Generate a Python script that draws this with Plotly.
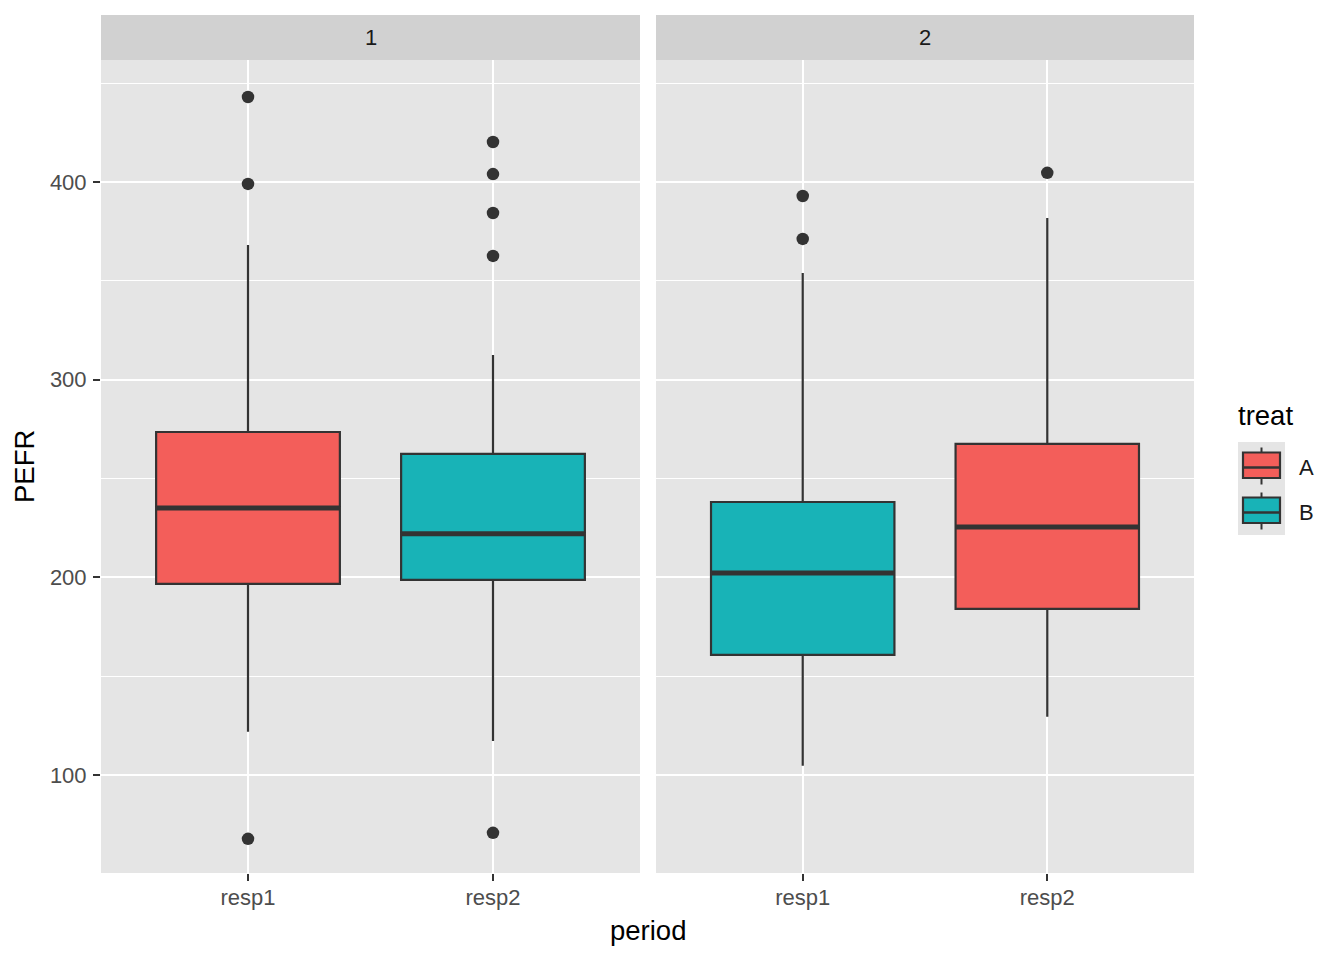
import plotly.graph_objects as go

# ---- data ----
periods = ["resp1", "resp2"]
facets = ["1", "2"]
treat_levels = ["A", "B"]
# per facet, per period
treat = [["A", "B"], ["B", "A"]]
q1 = [[196.7, 198.7], [160.7, 184.0]]
median = [[235.1, 222.0], [202.2, 225.5]]
q3 = [[273.5, 262.4], [238.1, 267.5]]
lower_whisker = [[121.8, 117.2], [104.6, 129.4]]
upper_whisker = [[368.1, 312.5], [354.0, 381.8]]
outliers = [
    [[443.0, 399.0, 67.7], [420.2, 404.0, 384.3, 362.6, 70.7]],
    [[392.9, 371.2], [404.6]],
]
treat_colors = {"A": "#F35E5A", "B": "#18B3B7"}

BOX_W = 0.75
LINE = "#333333"
FONT = "Liberation Sans, Arial, sans-serif"
TICK_FS = 22
TITLE_FS = 27.5

fig = go.Figure()
for fi in range(len(facets)):
    xa = "x" if fi == 0 else "x2"
    ya = "y" if fi == 0 else "y2"
    for pi in range(len(periods)):
        t = treat[fi][pi]
        xpos = pi + 1
        fig.add_trace(go.Box(
            x=[xpos], q1=[q1[fi][pi]], median=[median[fi][pi]], q3=[q3[fi][pi]],
            lowerfence=[lower_whisker[fi][pi]], upperfence=[upper_whisker[fi][pi]],
            width=BOX_W, whiskerwidth=0, boxpoints=False,
            fillcolor=treat_colors[t], line=dict(color=LINE, width=2.2),
            name=t, showlegend=False,
            xaxis=xa, yaxis=ya, hoverinfo="skip",
        ))
        # thicker median line (ggplot style)
        fig.add_trace(go.Scatter(
            x=[xpos - BOX_W / 2, xpos + BOX_W / 2], y=[median[fi][pi]] * 2,
            mode="lines", line=dict(color=LINE, width=5),
            showlegend=False, xaxis=xa, yaxis=ya, hoverinfo="skip",
        ))
        pts = outliers[fi][pi]
        fig.add_trace(go.Scatter(
            x=[xpos] * len(pts), y=pts, mode="markers",
            marker=dict(color=LINE, size=12.5),
            showlegend=False, xaxis=xa, yaxis=ya, hoverinfo="skip",
        ))

# page body has an 8px offset; plot area in page pixels: x 101..1194, y 15..873
W, H = 1344, 960
OFF = 8
PX0, PX1, PY0, PY1 = 101, 1194, 15, 873
L = PX0 - OFF
T = PY0 - OFF
R = W - (PX1 - OFF)
B = H - (PY1 - OFF)
pw = W - L - R
ph = H - T - B


def px(x):
    return (x - PX0) / pw


def py(y):
    return (PY1 - y) / ph


d1 = [0, px(640)]
d2 = [px(656), 1]
ytop = py(60)

xcommon = dict(
    range=[0.4, 2.6], tickvals=[1, 2], ticktext=periods,
    showgrid=True, gridcolor="white", gridwidth=2.2, zeroline=False,
    ticks="outside", ticklen=7, tickcolor=LINE, tickwidth=2,
    tickfont=dict(family=FONT, size=TICK_FS, color="#4D4D4D"),
    ticklabelstandoff=-2,
    showline=False, fixedrange=True,
)
ycommon = dict(
    range=[50.4, 461.7], tickvals=[100, 200, 300, 400],
    showgrid=True, gridcolor="white", gridwidth=2.2, zeroline=False,
    minor=dict(tickvals=[150, 250, 350, 450], showgrid=True, gridcolor="white", gridwidth=1.1),
    domain=[0, ytop], showline=False,
)

fig.update_layout(
    width=W, height=H,
    margin=dict(l=L, r=R, t=T, b=B, pad=0),
    paper_bgcolor="white", plot_bgcolor="#E5E5E5",
    font=dict(family=FONT, color="#1A1A1A"),
    xaxis=dict(domain=d1, anchor="y", **xcommon),
    xaxis2=dict(domain=d2, anchor="y2", **xcommon),
    yaxis=dict(anchor="x", ticks="outside", ticklen=7, tickcolor=LINE, tickwidth=2,
               tickfont=dict(family=FONT, size=TICK_FS, color="#4D4D4D"),
               ticklabelstandoff=2, **ycommon),
    yaxis2=dict(anchor="x2", matches="y", showticklabels=False, ticks="", **ycommon),
    showlegend=False,
)

shapes = []
annotations = []
for i, xa in enumerate(["x", "x2"]):
    shapes.append(dict(type="rect", xref=f"{xa} domain", yref="paper",
                       x0=0, x1=1, y0=ytop, y1=1, fillcolor="#D1D1D1",
                       line=dict(width=0), layer="below"))
    dom = d1 if i == 0 else d2
    annotations.append(dict(text=facets[i], xref="paper", yref="paper",
                            x=(dom[0] + dom[1]) / 2, y=(ytop + 1) / 2,
                            showarrow=False, xanchor="center", yanchor="middle",
                            font=dict(family=FONT, size=TICK_FS, color="#1A1A1A")))

# ---- manual ggplot-style legend ----
annotations.append(dict(text="treat", xref="paper", yref="paper",
                        x=px(1236), y=py(415), showarrow=False,
                        xanchor="left", yanchor="middle",
                        font=dict(family=FONT, size=TITLE_FS, color="#000000")))
shapes.append(dict(type="rect", xref="paper", yref="paper",
                   x0=px(1238), x1=px(1285), y0=py(535), y1=py(442),
                   fillcolor="#E5E5E5", line=dict(width=0), layer="below"))
for k, lev in enumerate(treat_levels):
    cy = 467.5 + 45 * k
    shapes.append(dict(type="line", xref="paper", yref="paper",
                       x0=px(1261.5), x1=px(1261.5), y0=py(cy - 20), y1=py(cy + 17),
                       line=dict(color=LINE, width=2)))
    shapes.append(dict(type="rect", xref="paper", yref="paper",
                       x0=px(1243), x1=px(1280), y0=py(cy + 10.5), y1=py(cy - 15),
                       fillcolor=treat_colors[lev], line=dict(color=LINE, width=2.2)))
    shapes.append(dict(type="line", xref="paper", yref="paper",
                       x0=px(1243), x1=px(1280), y0=py(cy), y1=py(cy),
                       line=dict(color=LINE, width=2.5)))
    annotations.append(dict(text=lev, xref="paper", yref="paper",
                            x=px(1297), y=py(cy), showarrow=False,
                            xanchor="left", yanchor="middle",
                            font=dict(family=FONT, size=TICK_FS, color="#1A1A1A")))

annotations.append(dict(text="period", xref="paper", yref="paper",
                        x=0.5, y=py(930), showarrow=False,
                        xanchor="center", yanchor="middle",
                        font=dict(family=FONT, size=TITLE_FS, color="#000000")))
annotations.append(dict(text="PEFR", xref="paper", yref="paper",
                        x=px(25), y=py(467), showarrow=False,
                        xanchor="center", yanchor="middle", textangle=-90,
                        font=dict(family=FONT, size=TITLE_FS, color="#000000")))
fig.update_layout(shapes=shapes, annotations=annotations)

fig.write_html("out.html")
